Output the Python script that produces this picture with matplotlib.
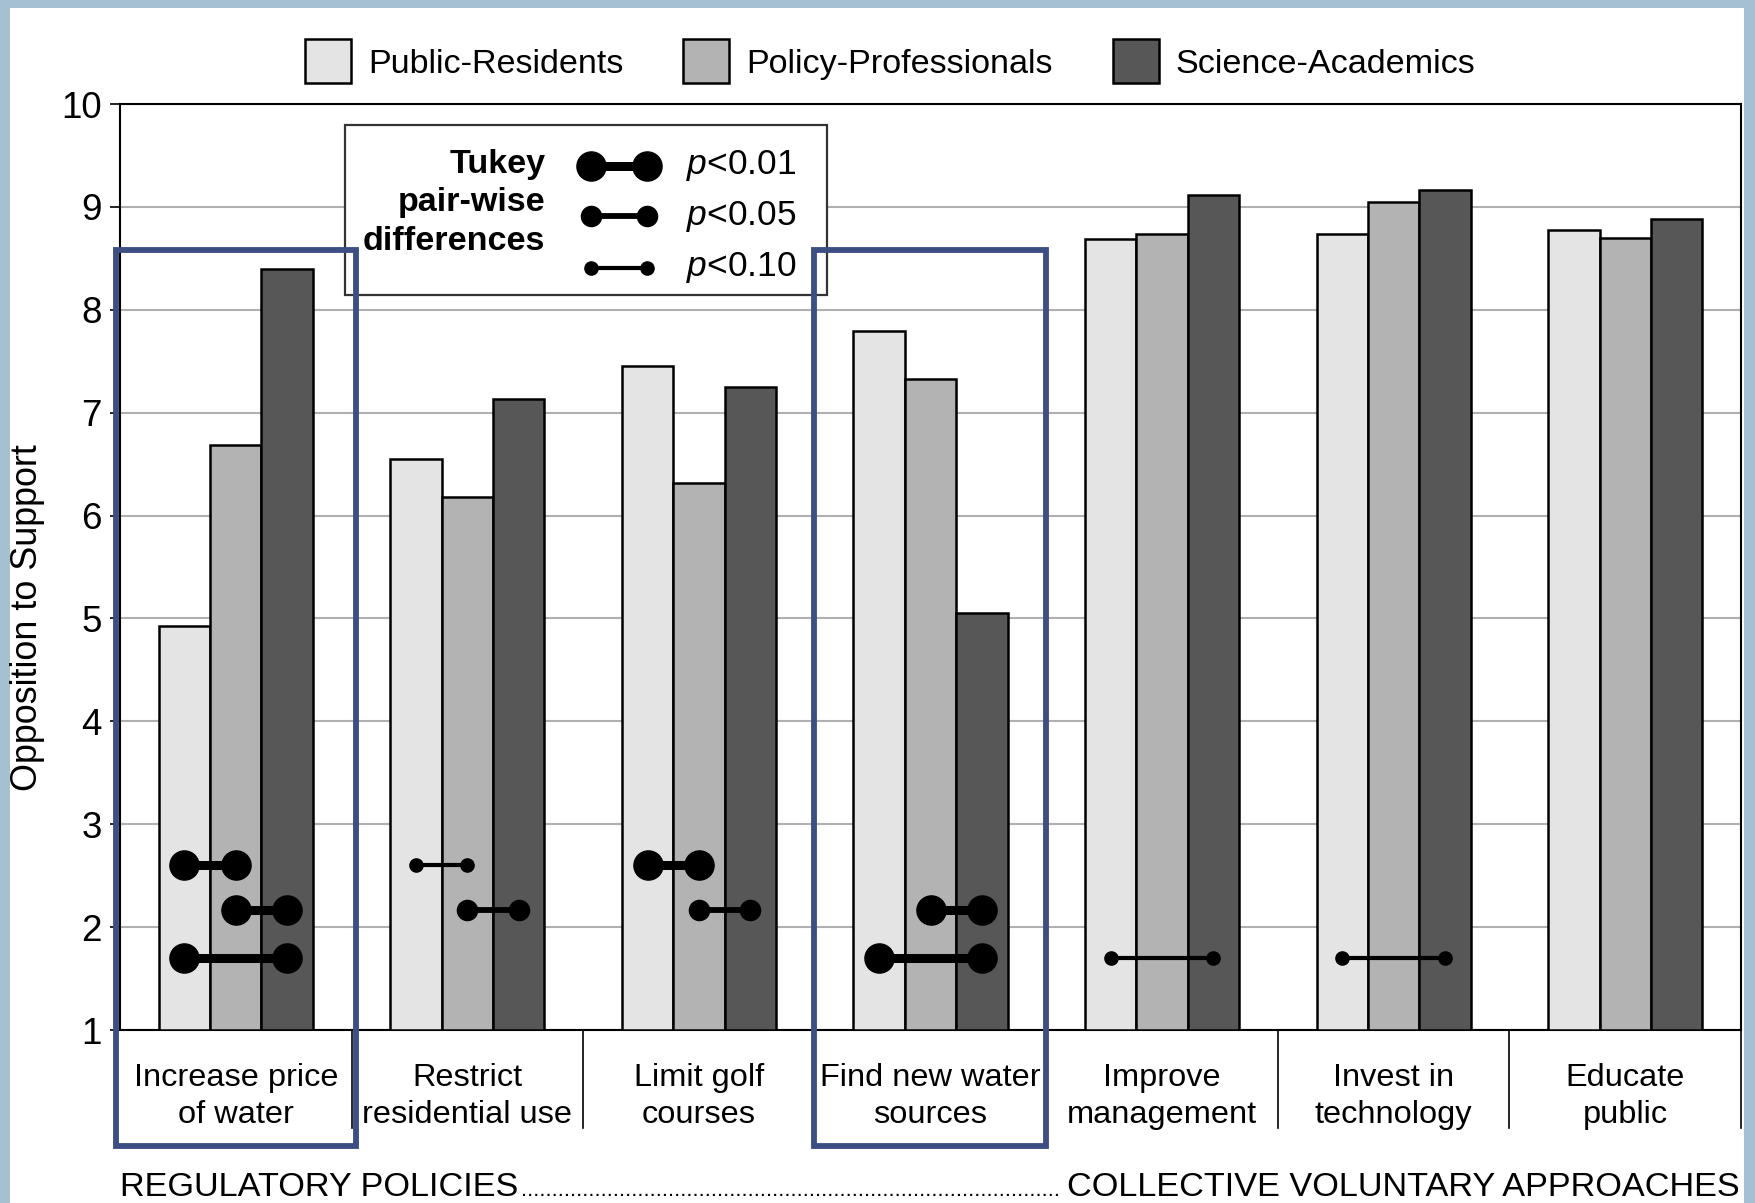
import numpy as np
import matplotlib.pyplot as plt
from matplotlib.patches import Rectangle

plt.rcParams['font.family'] = ['Liberation Sans', 'DejaVu Sans']
plt.rcParams['mathtext.fontset'] = 'custom'
plt.rcParams['mathtext.it'] = 'Liberation Sans:italic'
plt.rcParams['mathtext.rm'] = 'Liberation Sans'

# data
categories = ["Increase price\nof water", "Restrict\nresidential use", "Limit golf\ncourses",
              "Find new water\nsources", "Improve\nmanagement", "Invest in\ntechnology",
              "Educate\npublic"]
groups = ["Public-Residents", "Policy-Professionals", "Science-Academics"]
public = [4.93, 6.55, 7.45, 7.79, 8.69, 8.74, 8.78]
policy = [6.69, 6.18, 6.32, 7.33, 8.74, 9.05, 8.70]
science = [8.40, 7.13, 7.25, 5.05, 9.12, 9.16, 8.88]

# Tukey pair-wise differences: category, group a, group b, level, height
tukey_cat = [0, 0, 0, 1, 1, 2, 2, 3, 3, 4, 5]
tukey_a = [0, 1, 0, 0, 1, 0, 1, 1, 0, 0, 0]
tukey_b = [1, 2, 2, 1, 2, 1, 2, 2, 2, 2, 2]
tukey_p = ['0.01', '0.01', '0.01', '0.10', '0.05', '0.01', '0.05', '0.01', '0.01', '0.10', '0.10']
tukey_y = [2.6, 2.17, 1.7, 2.6, 2.17, 2.6, 2.17, 2.17, 1.7, 1.7, 1.7]

levels = ['0.01', '0.05', '0.10']
dot_size = {'0.01': 21, '0.05': 14.5, '0.10': 9.5}
bar_lw = {'0.01': 6.5, '0.05': 4.2, '0.10': 3.0}

colors = ['#e4e4e4', '#b3b3b3', '#575757']
navy = '#3c4e82'

fig = plt.figure(figsize=(17.56, 12.03), dpi=100, facecolor='#a5c0d0')
fig.patches.append(Rectangle((10/1756, 0), 1734/1756, 1 - 8/1203, transform=fig.transFigure,
                             facecolor='white', edgecolor='none', zorder=-5))
ax = fig.add_axes([120/1756, 173/1203, 1621/1756, 926/1203])

x = np.arange(len(categories))
w = 0.222
for i, vals in enumerate([public, policy, science]):
    ax.bar(x + (i - 1) * w, np.array(vals) - 1, w, bottom=1, color=colors[i],
           edgecolor='black', linewidth=1.8, label=groups[i], zorder=3)

ax.set_xlim(-0.5, 6.5)
ax.set_ylim(1, 10)
ax.set_yticks(range(1, 11))
ax.tick_params(axis='y', labelsize=26.5, length=7, width=1.2, pad=6)
ax.set_xticks([])
ax.grid(axis='y', color='#b0b0b0', linewidth=1.5, zorder=0)
ax.set_axisbelow(True)
for s in ax.spines.values():
    s.set_linewidth(1.5)
fig.text(28/1756, 1 - 618/1203, 'Opposition to Support', rotation=90, ha='center',
         va='center', fontsize=25.8)

# dumbbells
for c, a, b, p, yv in zip(tukey_cat, tukey_a, tukey_b, tukey_p, tukey_y):
    ax.plot([c + (a - 1) * w, c + (b - 1) * w], [yv, yv], '-o', color='black',
            lw=bar_lw[p], ms=dot_size[p], zorder=5)

# category labels and separators
for i, lab in enumerate(categories):
    ax.text(i, 0.355, lab, ha='center', va='center', fontsize=23.4, linespacing=1.3,
            clip_on=False)
for xs in np.arange(0.5, 7, 1):
    ax.plot([xs, xs], [1, 0.05], color='black', lw=1.2, clip_on=False)

# Tukey legend box
ax.add_patch(Rectangle((0.471, 8.14), 2.084, 1.66, facecolor='white', edgecolor='#333333',
                       linewidth=1.6, zorder=6))
ax.text(1.337, 9.04, 'Tukey\npair-wise\ndifferences', ha='right', va='center',
        multialignment='right', fontsize=24.6, fontweight='bold', linespacing=1.32, zorder=7)
for p, yl in zip(levels, [9.40, 8.91, 8.41]):
    ax.plot([1.535, 1.775], [yl, yl], '-o', color='black', lw=bar_lw[p], ms=dot_size[p],
            zorder=7)
    ax.text(1.946, yl, r'$p$<' + p, ha='left', va='center', fontsize=25.5, zorder=7)

# highlighted categories
for x0, x1 in [(-0.519, 0.52), (2.497, 3.497)]:
    ax.add_patch(Rectangle((x0, -0.127), x1 - x0, 8.58 + 0.127, facecolor='none',
                           edgecolor=navy, linewidth=4.2, zorder=8, clip_on=False))

# legend
fig.legend(loc='center', bbox_to_anchor=(0.507, 0.949), ncol=3, frameon=False,
           fontsize=24.6, handlelength=1.35, handleheight=1.6, handletextpad=0.5,
           columnspacing=1.75)

# bottom group labels
fig.text(120/1756, 0.0055, 'REGULATORY POLICIES', ha='left', va='baseline', fontsize=24.7)
fig.text(521/1756, 0.0055, '.' * 88, ha='left', va='baseline', fontsize=16)
fig.text(1740/1756, 0.0055, 'COLLECTIVE VOLUNTARY APPROACHES', ha='right', va='baseline',
         fontsize=24.7)

fig.savefig('out.png', dpi=100, facecolor=fig.get_facecolor())
